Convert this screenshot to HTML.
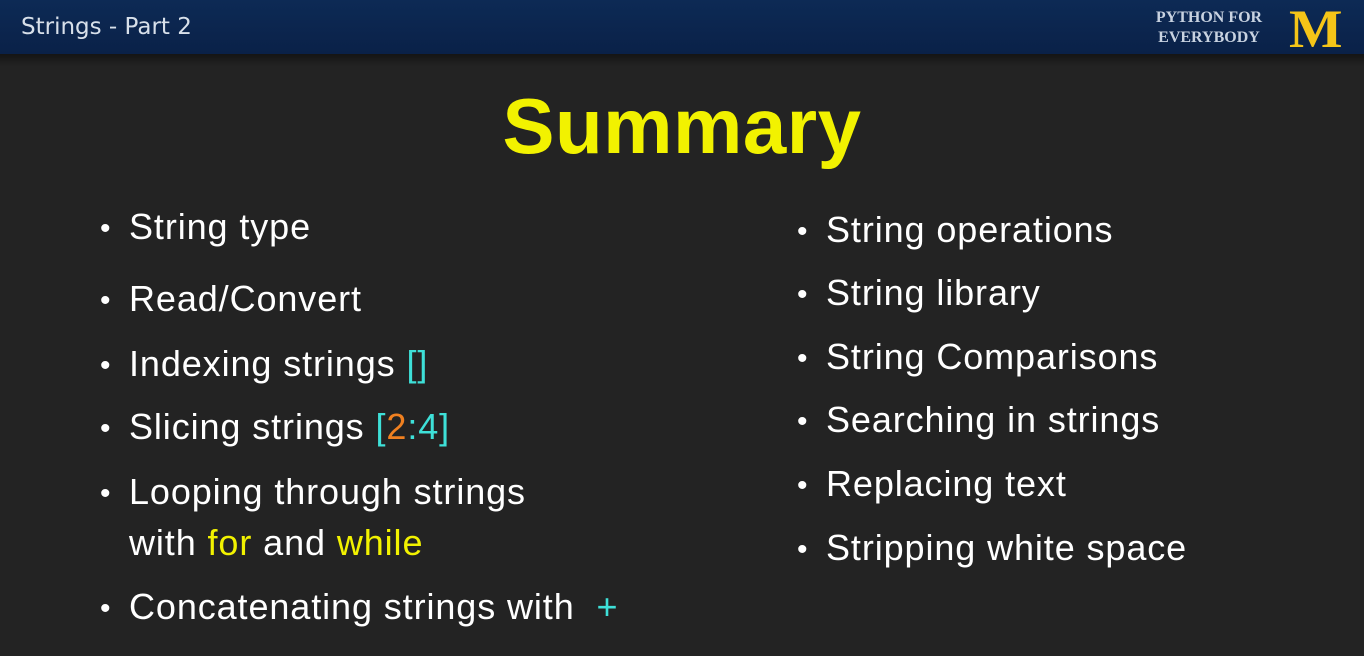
<!DOCTYPE html>
<html><head><meta charset="utf-8"><style>
body{margin:0;width:1364px;height:656px;background:#232323;overflow:hidden;position:relative;font-family:"Liberation Sans",sans-serif}
.hdr{position:absolute;left:0;top:0;width:1364px;height:54px;background:linear-gradient(#0d2a55,#0a2148)}
.sh{position:absolute;left:0;top:54px;width:1364px;height:12px;background:linear-gradient(#141414,#232323)}
.t{position:absolute;color:#fff;font-size:36px;letter-spacing:0.9px;white-space:nowrap;line-height:1}
.b{position:absolute;color:#fff;font-size:30px;line-height:1}
.y{color:#f2f200}.c{color:#3ee0d8}.o{color:#f08020}
</style></head><body>
<div class="hdr"></div><div class="sh"></div>
<div style="position:absolute;left:21px;top:14px;color:#d8e0ea;font-family:'DejaVu Sans',sans-serif;font-size:23px">Strings - Part 2</div>
<div style="position:absolute;left:1143px;top:8px;color:#c8d2e0;font-family:'Liberation Serif',serif;font-weight:bold;font-size:16px;line-height:20px;text-align:center;width:132px">PYTHON FOR<br>EVERYBODY</div>
<div style="position:absolute;left:1289px;top:2px;color:#f5c518;font-family:'Liberation Serif',serif;font-weight:bold;font-size:54px;line-height:54px;transform:scaleX(1.05);transform-origin:left">M</div>
<div style="position:absolute;left:0;width:1364px;text-align:center;top:82px;color:#f2f200;font-weight:bold;font-size:78px;letter-spacing:0.5px;line-height:88px">Summary</div>
<div class="b" style="left:100px;top:214px">•</div><div class="t" style="left:129px;top:209px">String type</div>
<div class="b" style="left:100px;top:286px">•</div><div class="t" style="left:129px;top:281px">Read/Convert</div>
<div class="b" style="left:100px;top:351px">•</div><div class="t" style="left:129px;top:346px">Indexing strings <span class="c">[]</span></div>
<div class="b" style="left:100px;top:414px">•</div><div class="t" style="left:129px;top:409px">Slicing strings <span class="c">[</span><span class="o">2</span><span class="c">:4]</span></div>
<div class="b" style="left:100px;top:479px">•</div><div class="t" style="left:129px;top:474px">Looping through strings</div>
<div class="t" style="left:129px;top:525px">with <span class="y">for</span> and <span class="y">while</span></div>
<div class="b" style="left:100px;top:594px">•</div><div class="t" style="left:129px;top:589px">Concatenating strings with &nbsp;<span class="c">+</span></div>
<div class="b" style="left:797px;top:217px">•</div><div class="t" style="left:826px;top:212px">String operations</div>
<div class="b" style="left:797px;top:280px">•</div><div class="t" style="left:826px;top:275px">String library</div>
<div class="b" style="left:797px;top:344px">•</div><div class="t" style="left:826px;top:339px">String Comparisons</div>
<div class="b" style="left:797px;top:407px">•</div><div class="t" style="left:826px;top:402px">Searching in strings</div>
<div class="b" style="left:797px;top:471px">•</div><div class="t" style="left:826px;top:466px">Replacing text</div>
<div class="b" style="left:797px;top:535px">•</div><div class="t" style="left:826px;top:530px">Stripping white space</div>
</body></html>
